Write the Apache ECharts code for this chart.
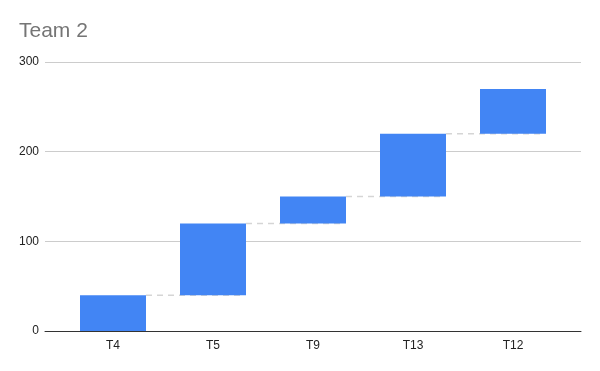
<!DOCTYPE html>
<html><head><meta charset="utf-8">
<script src="https://cdn.jsdelivr.net/npm/echarts@6/dist/echarts.min.js"></script>
<style>html,body{margin:0;padding:0;background:#fff}#c{width:600px;height:371px}</style>
</head><body><div id="c"></div>
<script>
const categories = ['T4', 'T5', 'T9', 'T13', 'T12'];
const increments = [40, 80, 30, 70, 50];
const yTicks = [0, 100, 200, 300];

const bases = [];
let run = 0;
for (const v of increments) { bases.push(run); run += v; }
const tops = bases.map((b, i) => b + increments[i]);

const chart = echarts.init(document.getElementById('c'), null, {renderer: 'canvas'});
const FONT = 'Liberation Sans, Arial, sans-serif';
chart.setOption({
  animation: false,
  title: {text: 'Team 2', left: 14, top: 16, textStyle: {fontFamily: FONT, fontSize: 21, fontWeight: 'normal', color: '#757575'}},
  grid: [
    {left: 45, right: 19, top: 62, bottom: 40, containLabel: false},
    {left: 63, right: 37, top: 62, bottom: 40, containLabel: false}
  ],
  xAxis: [
    {gridIndex: 0, type: 'value', min: 0, max: 1, axisLabel: {show: false}, axisTick: {show: false}, splitLine: {show: false}, axisLine: {show: true, lineStyle: {color: '#333', width: 1}}},
    {gridIndex: 1, type: 'category', data: categories, axisLine: {show: false}, axisTick: {show: false},
      axisLabel: {fontFamily: FONT, fontSize: 12, color: '#222', margin: 9}}
  ],
  yAxis: [
    {gridIndex: 0, type: 'value', min: 0, max: 300, interval: 100, axisLine: {show: false}, axisTick: {show: false},
      axisLabel: {fontFamily: FONT, fontSize: 12, color: '#222', margin: 6, formatter: v => yTicks.includes(v) ? String(v) : ''},
      splitLine: {lineStyle: {color: '#cccccc', width: 1}}},
    {gridIndex: 1, type: 'value', min: 0, max: 300, interval: 100, show: false}
  ],
  series: [
    {
      type: 'custom', xAxisIndex: 1, yAxisIndex: 1, z: 1, silent: true,
      data: categories.map((c, i) => [i, tops[i]]),
      renderItem: function (params, api) {
        const i = api.value(0);
        if (i >= categories.length - 1) return null;
        const v = api.value(1);
        const bw = api.size([1, 0])[0] * 0.66;
        const p0 = api.coord([i, v]);
        const p1 = api.coord([i + 1, v]);
        return {
          type: 'line',
          shape: {x1: p0[0] + bw / 2, y1: p0[1], x2: p1[0] + bw / 2 - 5, y2: p1[1]},
          style: {stroke: '#d5d5d5', lineWidth: 1.5, lineDash: [6, 5]}
        };
      }
    },
    {type: 'bar', xAxisIndex: 1, yAxisIndex: 1, stack: 'w', data: bases, barWidth: '66%', itemStyle: {color: 'transparent'}, silent: true, z: 2},
    {type: 'bar', xAxisIndex: 1, yAxisIndex: 1, stack: 'w', data: increments, barWidth: '66%', itemStyle: {color: '#4285f4'}, z: 2}
  ]
});
</script></body></html>
